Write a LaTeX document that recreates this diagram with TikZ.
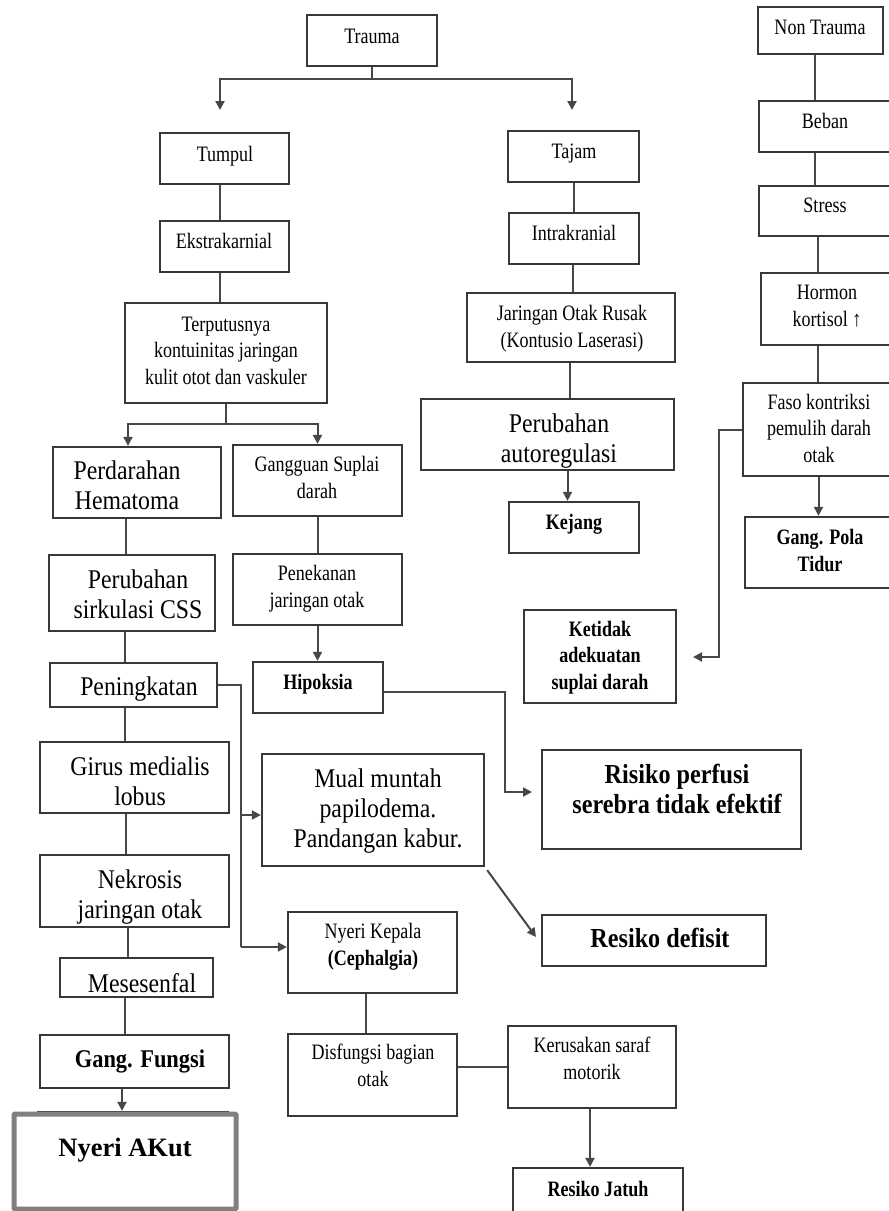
\documentclass[tikz,border=0pt]{standalone}
\usepackage{fontspec}
\setmainfont{Liberation Serif}[FakeStretch=0.82]
\newfontfamily\bigfam{Liberation Serif}[FakeStretch=0.88]
\newfontfamily\plainfam{Liberation Serif}
\usetikzlibrary{arrows.meta}
\newcommand\bx[6][box]{\node[#1,minimum width={#5-#3},minimum height={#6-#4}] (#2) at ({(#3+#5)/2},{(#4+#6)/2}) {};}
\newcommand\vcon[4][ln]{\draw[#1] ([xshift=#4]#2.south) -- ([xshift=#4]#2.south |- #3.north);}
\begin{document}
\begin{tikzpicture}[x=1pt,y=-1pt,
  box/.style={draw=black!78,line width=2.3pt,fill=white,inner sep=0pt,rectangle},
  thickbox/.style={box,draw=black!50,line width=5pt,rounded corners=1pt},
  ln/.style={draw=black!72,line width=2pt},
  arr/.style={ln,-{Triangle[length=9pt,width=9pt]}},
  sm/.style={font=\fontsize{22}{26.5}\selectfont,align=center,anchor=base,inner sep=0pt},
  smb/.style={font=\fontsize{22}{26.5}\selectfont\bfseries,align=center,anchor=base,inner sep=0pt},
  bg/.style={font=\bigfam\fontsize{27}{30}\selectfont,align=center,anchor=base,inner sep=0pt},
  bgb/.style={font=\bigfam\fontsize{27.5}{30}\selectfont\bfseries,align=center,anchor=base,inner sep=0pt}]
\useasboundingbox (0,0) rectangle (889,1211);
\fill[white] (0,0) rectangle (889,1211);
% boxes
\bx{trauma}{307}{15}{437}{66}
\bx{tumpul}{160}{133}{289}{184}
\bx{ekstra}{160}{221}{289}{272}
\bx{terput}{125}{303}{327}{403}
\bx{tajam}{508}{131}{639}{182}
\bx{intra}{509}{213}{639}{264}
\bx{jar}{467}{293}{675}{362}
\bx{perauto}{421}{399}{674}{470}
\bx{kejang}{509}{502}{639}{553}
\bx{nontr}{758}{7}{883}{54}
\bx{beban}{759}{101}{900}{152}
\bx{stress}{759}{186}{900}{236}
\bx{hormon}{761}{273}{900}{345}
\bx{faso}{743}{383}{900}{476}
\bx{gpola}{745}{517}{900}{588}
\bx{ketid}{524}{610}{676}{703}
\bx{perd}{53}{447}{221}{518}
\bx{gang}{233}{445}{402}{516}
\bx{perub}{49}{555}{215}{631}
\bx{penek}{233}{554}{402}{625}
\bx{hipok}{253}{662}{383}{713}
\bx{pening}{50}{663}{217}{707}
\bx{girus}{40}{742}{229}{813}
\bx{mual}{262}{754}{484}{866}
\bx{risiko}{542}{750}{801}{849}
\bx{rdef}{542}{915}{766}{966}
\bx{nekro}{40}{855}{229}{927}
\bx{meses}{60}{958}{213}{997}
\bx{gfung}{40}{1035}{229}{1088}
\bx{hidden}{38}{1112}{228}{1190}
\bx[thickbox]{nakut}{14}{1114}{236}{1209}
\bx{nyerik}{288}{912}{457}{993}
\bx{disf}{288}{1034}{457}{1116}
\bx{kerus}{508}{1026}{676}{1108}
\bx{resj}{513}{1168}{683}{1232}
% texts (y = baseline of last line)
\node[sm] (t-trauma) at (372,43) {Trauma};
\node[sm] (t-tumpul) at (225,161) {Tumpul};
\node[sm] (t-ekstra) at (224,248) {Ekstrakarnial};
\node[sm] (t-terput) at (226,384) {Terputusnya\\kontuinitas jaringan\\kulit otot dan vaskuler};
\node[sm] (t-tajam) at (574,158) {Tajam};
\node[sm] (t-intra) at (574,240) {Intrakranial};
\node[sm] (t-jar) at (572,347) {Jaringan Otak Rusak\\(Kontusio Laserasi)};
\node[bg] (t-perauto) at (559,462) {Perubahan\\autoregulasi};
\node[smb] (t-kejang) at (574,529) {Kejang};
\node[sm] (t-nontr) at (820,34) {Non Trauma};
\node[sm] (t-beban) at (825,128) {Beban};
\node[sm] (t-stress) at (825,212) {Stress};
\node[sm] (t-hormon) at (827,326) {Hormon\\kortisol ↑};
\node[sm] (t-faso) at (819,462) {Faso kontriksi\\pemulih darah\\otak};
\node[smb] (t-gpola) at (820,571) {Gang. Pola\\Tidur};
\node[smb] (t-ketid) at (600,689) {Ketidak\\adekuatan\\suplai darah};
\node[bg] (t-perd) at (127,509) {Perdarahan\\Hematoma};
\node[sm] (t-gang) at (317,498) {Gangguan Suplai\\darah};
\node[bg] (t-perub) at (138,618) {Perubahan\\sirkulasi CSS};
\node[sm] (t-penek) at (317,607) {Penekanan\\jaringan otak};
\node[smb] (t-hipok) at (318,689) {Hipoksia};
\node[bg] (t-pening) at (139,695) {Peningkatan};
\node[bg] (t-girus) at (140,805) {Girus medialis\\lobus};
\node[bg] (t-mual) at (378,847) {Mual muntah\\papilodema.\\Pandangan kabur.};
\node[bgb] (t-risiko) at (677,813) {Risiko perfusi\\serebra tidak efektif};
\node[bgb] (t-rdef) at (660,947) {Resiko defisit};
\node[bg] (t-nekro) at (140,918) {Nekrosis\\jaringan otak};
\node[bg] (t-meses) at (142,992) {Mesesenfal};
\node[bgb,font=\bigfam\fontsize{25.5}{30}\selectfont\bfseries] (t-gfung) at (140,1067) {Gang. Fungsi};
\node[bgb,font=\plainfam\fontsize{26.5}{30}\selectfont\bfseries] (t-nakut) at (125,1156) {Nyeri AKut};
\node[sm] (t-nyerik) at (373,965) {Nyeri Kepala\\\textbf{(Cephalgia)}};
\node[sm] (t-disf) at (373,1086) {Disfungsi bagian\\otak};
\node[sm] (t-kerus) at (592,1079) {Kerusakan saraf\\motorik};
\node[smb] (t-resj) at (598,1196) {Resiko Jatuh};
% connectors
\coordinate (tsplit) at (372,79);
\coordinate (tLa) at (220,110);
\coordinate (tRa) at (572,110);
\draw[ln] (trauma.south) -- (tsplit);
\draw[arr] (tsplit) -| (tLa);
\draw[arr] (tsplit) -| (tRa);
\vcon{tumpul}{ekstra}{-5pt}
\vcon{ekstra}{terput}{-5pt}
\coordinate (psplit) at (226,424);
\draw[ln] (terput.south) -- (psplit);
\draw[arr] (psplit) -| ([xshift=-9pt]perd.north);
\draw[arr] (psplit) -| (gang.north);
\vcon{perd}{perub}{-11pt}
\vcon{perub}{pening}{-7pt}
\vcon{pening}{girus}{-8.5pt}
\vcon{girus}{nekro}{-8.5pt}
\vcon{nekro}{meses}{-6.5pt}
\vcon{meses}{gfung}{-11.5pt}
\vcon[arr]{gfung}{hidden}{-12.5pt}
\vcon{gang}{penek}{0pt}
\vcon[arr]{penek}{hipok}{0pt}
\vcon{tajam}{intra}{0pt}
\vcon{intra}{jar}{-1pt}
\vcon{jar}{perauto}{-1pt}
\vcon[arr]{perauto}{kejang}{20pt}
\vcon{nontr}{beban}{-6pt}
\vcon{beban}{stress}{-15pt}
\vcon{stress}{hormon}{-12pt}
\vcon{hormon}{faso}{-13pt}
\vcon[arr]{faso}{gpola}{-3pt}
\coordinate (fk) at (719,657);
\coordinate (kend) at (693,657);
\draw[arr] (faso.west) -| (fk) -- (kend);
\coordinate (pv1) at (241,685);
\coordinate (pv2) at (241,815);
\coordinate (pv3) at (241,947);
\draw[ln] (pening.east) -- (pv1) -- (pv3);
\draw[arr] (pv2) -- (mual.west |- pv2);
\draw[arr] (pv3) -- (nyerik.west |- pv3);
\coordinate (hv1) at (505,692);
\coordinate (hv2) at (505,792);
\coordinate (hend) at (532,792);
\draw[arr] ([yshift=-4.5pt]hipok.east) -- (hv1) -- (hv2) -- (hend);
\coordinate (rdefa) at (536,937);
\draw[arr] ([xshift=2pt,yshift=-3pt]mual.south east) -- (rdefa);
\vcon{nyerik}{disf}{-6.5pt}
\draw[ln] (disf.east |- kerus.west) -- (kerus.west);
\vcon[arr]{kerus}{resj}{-2pt}
\end{tikzpicture}
\end{document}
